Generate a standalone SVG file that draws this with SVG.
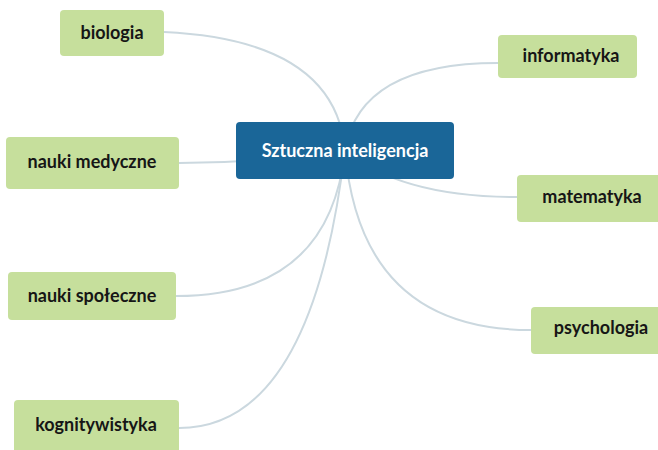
<svg xmlns="http://www.w3.org/2000/svg" width="658" height="450" viewBox="0 0 658 450">
<style>
.edge{fill:none;stroke:#cbd8df;stroke-width:2}
.leaf rect{fill:#c6df9c}
.leaf text{font-family:Lato,"Liberation Sans",sans-serif;font-weight:700;font-size:18px;fill:#161616;text-anchor:middle}
.root rect{fill:#1a6698}
.root text{font-family:Lato,"Liberation Sans",sans-serif;font-weight:700;font-size:18px;fill:#ffffff;text-anchor:middle}
</style>
<rect width="658" height="450" fill="#ffffff"/>
<g id="connectors">
<path class="edge" d="M345 150 Q335 40 164 32"/>
<path class="edge" d="M345 150 Q360 63 498 63"/>
<path class="edge" d="M345 150 Q260 163 179 163"/>
<path class="edge" d="M345 150 Q400 197 517 197"/>
<path class="edge" d="M345 150 Q330 296 176 296"/>
<path class="edge" d="M345 150 Q360 330 531 330"/>
<path class="edge" d="M345 150 Q312 428 179 428"/>
</g>
<g id="root" class="root">
<rect x="236" y="122" width="218" height="57" rx="4"/>
<text x="345" y="157">Sztuczna inteligencja</text>
</g>
<g id="biologia" class="leaf">
<rect x="60" y="10" width="104" height="46" rx="4"/>
<text x="112" y="39">biologia</text>
</g>
<g id="informatyka" class="leaf">
<rect x="498" y="35" width="139" height="43" rx="4"/>
<text x="571" y="62">informatyka</text>
</g>
<g id="nauki-medyczne" class="leaf">
<rect x="6" y="137" width="173" height="52" rx="4"/>
<text x="92" y="168">nauki medyczne</text>
</g>
<g id="matematyka" class="leaf">
<rect x="517" y="175" width="150" height="47" rx="4"/>
<text x="592" y="203">matematyka</text>
</g>
<g id="nauki-spoleczne" class="leaf">
<rect x="8" y="272" width="168" height="48" rx="4"/>
<text x="92" y="302">nauki społeczne</text>
</g>
<g id="psychologia" class="leaf">
<rect x="531" y="307" width="140" height="47" rx="4"/>
<text x="601" y="334">psychologia</text>
</g>
<g id="kognitywistyka" class="leaf">
<rect x="14" y="400" width="165" height="54" rx="4"/>
<text x="96" y="431">kognitywistyka</text>
</g>
</svg>
